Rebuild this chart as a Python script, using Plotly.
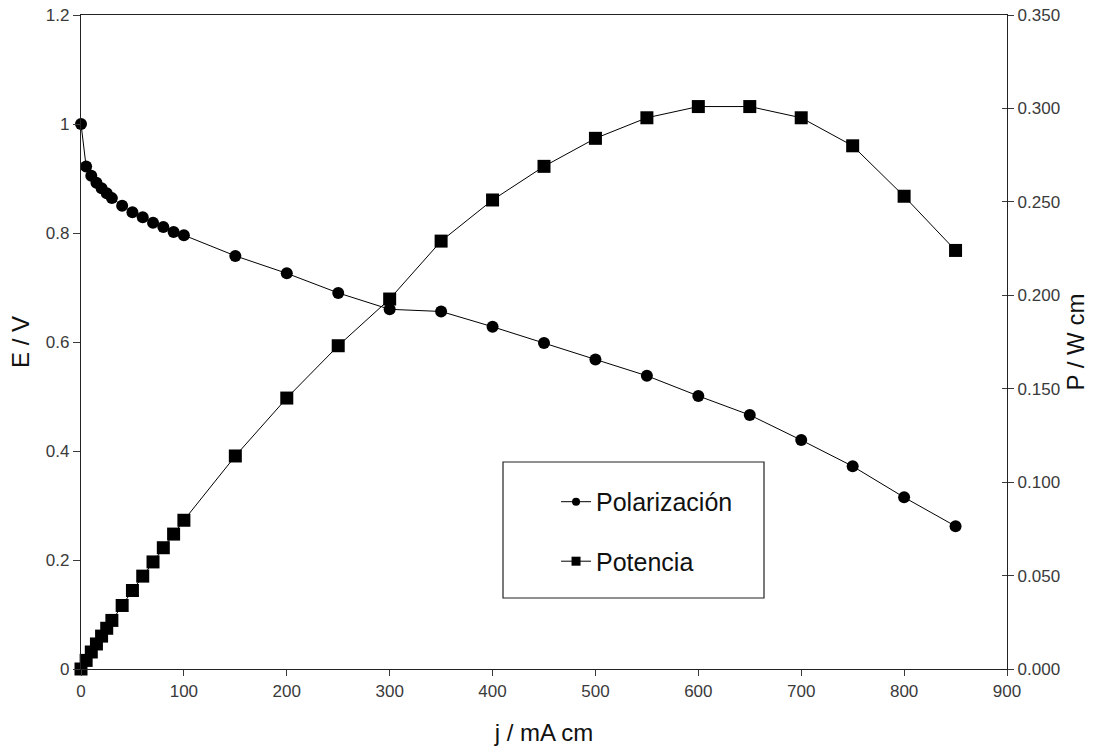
import plotly.graph_objects as go

# Current density (mA/cm2)
j_vals = [0, 5, 10, 15, 20, 25, 30, 40, 50, 60, 70, 80, 90, 100,
          150, 200, 250, 300, 350, 400, 450, 500, 550, 600, 650, 700, 750, 800, 850]

# Cell voltage (V)
e_vals = [1.000, 0.922, 0.905, 0.892, 0.882, 0.873, 0.864, 0.850, 0.838, 0.829, 0.819, 0.811, 0.802, 0.796,
          0.758, 0.726, 0.690, 0.660, 0.656, 0.628, 0.598, 0.568, 0.538, 0.501, 0.466, 0.420, 0.372, 0.315, 0.262]

# Power density (W/cm2)
p_vals = [0.000, 0.0046, 0.0091, 0.0134, 0.0176, 0.0218, 0.0260, 0.0340, 0.0420, 0.0497, 0.0573, 0.0649, 0.0722, 0.0796,
          0.114, 0.145, 0.173, 0.198, 0.229, 0.251, 0.269, 0.284, 0.295, 0.301, 0.301, 0.295, 0.280, 0.253, 0.224]

x_ticks = [0, 100, 200, 300, 400, 500, 600, 700, 800, 900]
e_ticks = [0, 0.2, 0.4, 0.6, 0.8, 1.0, 1.2]
p_ticks = [0.0, 0.05, 0.10, 0.15, 0.20, 0.25, 0.30, 0.35]

FONT = "Liberation Sans, Arial, sans-serif"
NARROW = "Liberation Sans Narrow, Arial Narrow, Liberation Sans, sans-serif"
TICK_COLOR = "#3a3a3a"
TITLE_COLOR = "#111111"

fig = go.Figure()

fig.add_trace(go.Scatter(
    x=j_vals, y=e_vals, name="Polarización", mode="lines+markers",
    line=dict(color="black", width=1),
    marker=dict(symbol="circle", size=12, color="black"),
    yaxis="y", showlegend=False, cliponaxis=False,
))
fig.add_trace(go.Scatter(
    x=j_vals, y=p_vals, name="Potencia", mode="lines+markers",
    line=dict(color="black", width=1),
    marker=dict(symbol="square", size=13, color="black"),
    yaxis="y2", showlegend=False, cliponaxis=False,
))

# legend entries with smaller symbols
fig.add_trace(go.Scatter(
    x=[None], y=[None], name="Polarización", mode="lines+markers",
    line=dict(color="black", width=1),
    marker=dict(symbol="circle", size=8, color="black"),
    yaxis="y", legendgroup="a",
))
fig.add_trace(go.Scatter(
    x=[None], y=[None], name="Potencia", mode="lines+markers",
    line=dict(color="black", width=1),
    marker=dict(symbol="square", size=9, color="black"),
    yaxis="y2", legendgroup="b",
))

axis_common = dict(
    showgrid=False, zeroline=False, showline=True,
    linecolor="#222222", linewidth=1.3,
    tickcolor=TICK_COLOR, tickwidth=1, automargin=False,
)

fig.update_layout(
    width=1095, height=746,
    margin=dict(l=81, r=88, t=15, b=77),
    paper_bgcolor="white", plot_bgcolor="white",
    showlegend=True,
    legend=dict(
        x=0.513, y=0.2906, xanchor="left", yanchor="top",
        bgcolor="rgba(0,0,0,0)", borderwidth=0,
        font=dict(family=FONT, size=25, color=TITLE_COLOR),
        tracegroupgap=24, itemsizing="trace",
    ),
    xaxis=dict(
        **axis_common,
        range=[0, 900], tickvals=x_ticks, ticks="outside", ticklen=6,
        mirror=True,
        tickfont=dict(family=NARROW, size=17, color=TICK_COLOR),
        title=dict(text="j / mA cm", font=dict(family=FONT, size=24, color=TITLE_COLOR), standoff=24),
    ),
    yaxis=dict(
        **axis_common,
        range=[0, 1.2], tickvals=e_ticks, ticks="outside", ticklen=7,
        tickfont=dict(family=FONT, size=17, color=TICK_COLOR),
        title=dict(text="E / V", font=dict(family=FONT, size=24, color=TITLE_COLOR), standoff=9),
    ),
    yaxis2=dict(
        **axis_common,
        range=[0, 0.35], tickvals=p_ticks, tickformat=".3f",
        ticks="outside", ticklen=6, side="right", overlaying="y", anchor="x",
        tickfont=dict(family=FONT, size=17, color=TICK_COLOR),
        title=dict(text="P / W cm", font=dict(family=FONT, size=24, color=TITLE_COLOR), standoff=8),
    ),
    # duplicate of the power axis carrying the inward half of its crossing ticks
    yaxis3=dict(
        range=[0, 0.35], tickvals=p_ticks, showticklabels=False,
        ticks="inside", ticklen=5, tickcolor=TICK_COLOR, tickwidth=1,
        showgrid=False, zeroline=False, showline=False, automargin=False,
        side="right", overlaying="y", anchor="x",
    ),
)

# Legend frame
fig.add_shape(type="rect", xref="paper", yref="paper",
              x0=(503 - 81) / 926, x1=(764 - 81) / 926,
              y0=(669 - 598) / 654, y1=(669 - 462) / 654,
              line=dict(color="#222222", width=1.2), fillcolor="rgba(0,0,0,0)")

# invisible trace so yaxis3 is rendered
fig.add_trace(go.Scatter(x=[None], y=[None], yaxis="y3", showlegend=False, hoverinfo="skip"))

fig.write_html("out.html")
